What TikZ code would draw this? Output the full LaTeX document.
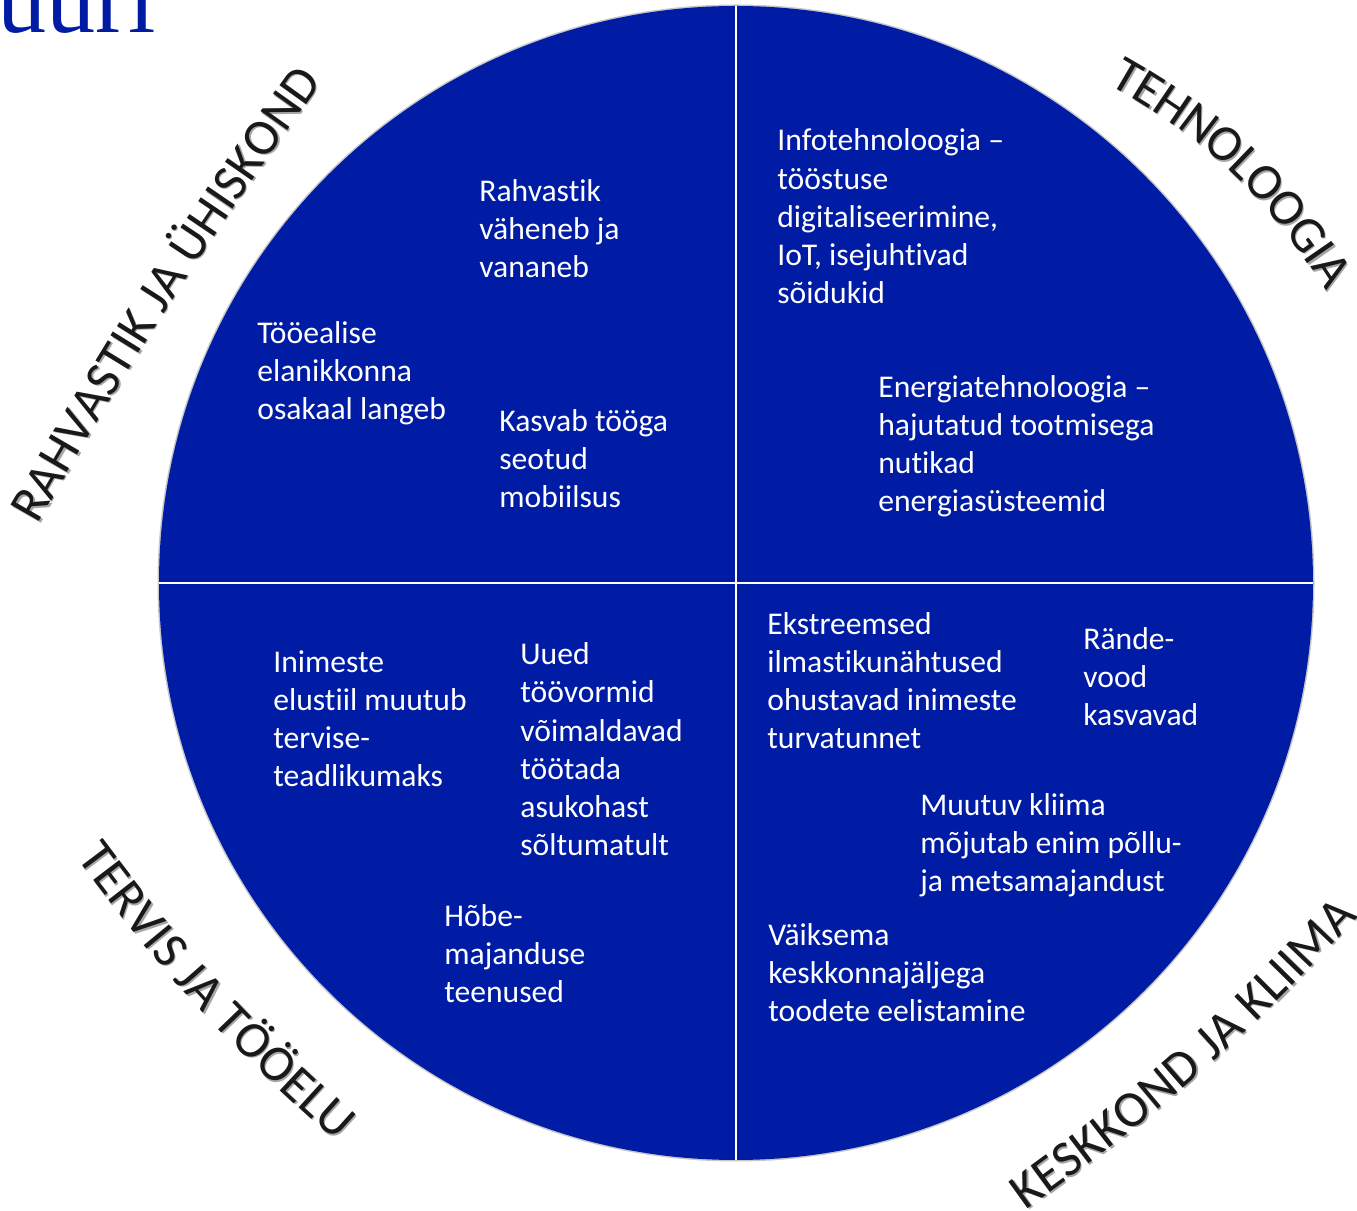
\documentclass[tikz,border=0pt]{standalone}
\usepackage{fontspec}
\setmainfont{Carlito}[Ligatures=NoCommon]
\newfontfamily\titlefont{Liberation Serif}
\usetikzlibrary{calc,decorations.text}
\definecolor{circblue}{RGB}{0,28,165}
\newcommand{\qfont}{\fontsize{18}{21.8}\selectfont}
\newcommand{\lblfont}{\fontsize{29}{31}\selectfont}
\tikzset{lbl/.style 2 args={decorate,
    decoration={text along path, text align=center, raise=-9.3pt,
                text={|\lblfont\color{#2}|#1}}}}

\begin{document}
\begin{tikzpicture}[x=0.02cm,y=0.02cm]
\useasboundingbox (0,0) rectangle (1357,1211);
\coordinate (O) at (736,628);

% title, cut off by the page
\node[anchor=base west, inner sep=0pt, text=circblue,
      font=\titlefont\fontsize{56}{60}\selectfont] (title) at (-3,1178) {uuri};

% the circle in four quarters
\fill[black!22] (O) circle (578.5);
\fill[circblue] (O) circle (577);
\draw[white, line width=1.3pt] (O) ++(0,577) -- ++(0,-1154);
\draw[white, line width=1.3pt] (O) ++(-577,0) -- ++(1154,0);

% texts, placed by the baseline of their last line
\begin{scope}[every node/.style={text=white, align=left, anchor=base west,
                                 inner sep=0pt, font=\qfont}]
    \node (A) at (479,933) {Rahvastik\\väheneb ja\\vananeb};
    \node (B) at (257,791) {Tööealise\\elanikkonna\\osakaal langeb};
    \node (C) at (499,703) {Kasvab tööga\\seotud\\mobiilsus};
    \node (D) at (777,907) {Infotehnoloogia --\\tööstuse\\digitaliseerimine,\\IoT, isejuhtivad\\sõidukid};
    \node (E) at (878,699) {Energiatehnoloogia --\\hajutatud tootmisega\\nutikad\\energiasüsteemid};
    \node (F) at (273,424) {Inimeste\\elustiil muutub\\tervise-\\teadlikumaks};
    \node (G) at (520,355) {Uued\\töövormid\\võimaldavad\\töötada\\asukohast\\sõltumatult};
    \node (H) at (444,208) {Hõbe-\\majanduse\\teenused};
    \node (I) at (767,462) {Ekstreemsed\\ilmastikunähtused\\ohustavad inimeste\\turvatunnet};
    \node (J) at (1083,485) {Rände-\\vood\\kasvavad};
    \node (K) at (920,319) {Muutuv kliima\\mõjutab enim põllu-\\ja metsamajandust};
    \node (L) at (768,189) {Väiksema\\keskkonnajäljega\\toodete eelistamine};
\end{scope}

% curved labels round the circle, with a soft shadow
\begin{scope}[shift={(1.5,-1.5)}]
    \path[lbl={RAHVASTIK JA ÜHISKOND}{black!35}] (25,697) to[bend left=3] (307,1136);
    \path[lbl={TEHNOLOOGIA}{black!35}] (1100,1150) to[bend left=15] (1350,912);
    \path[lbl={TERVIS JA TÖÖELU}{black!35}] (84,370) to[bend right=6] (354,76);
    \path[lbl={KESKKOND JA KLIIMA}{black!35}] (1002,4) to[bend right=6] (1358,318);
\end{scope}
\path[lbl={RAHVASTIK JA ÜHISKOND}{black!90}] (25,697) to[bend left=3] (307,1136);
\path[lbl={TEHNOLOOGIA}{black!90}] (1100,1150) to[bend left=15] (1350,912);
\path[lbl={TERVIS JA TÖÖELU}{black!90}] (84,370) to[bend right=6] (354,76);
\path[lbl={KESKKOND JA KLIIMA}{black!90}] (1002,4) to[bend right=6] (1358,318);
\end{tikzpicture}
\end{document}
